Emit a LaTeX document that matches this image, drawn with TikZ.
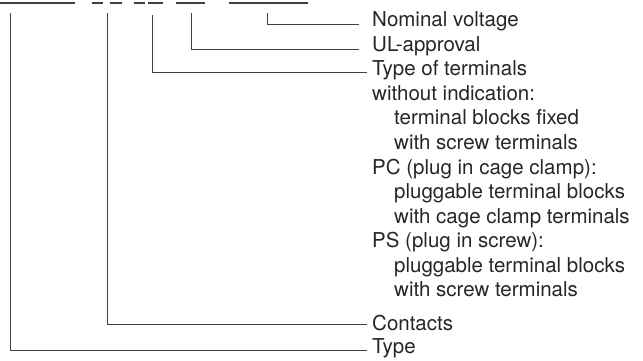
\documentclass[tikz,border=0pt]{standalone}
\usepackage{fontspec}
\setmainfont{TeX Gyre Heros}
\usepackage{tikz}
\usetikzlibrary{calc}
\newcommand{\lblfont}{\fontsize{20.5}{24}\selectfont}
\tikzstyle{lbl}=[font=\lblfont, inner sep=0pt, anchor=base west, text=black!85]
\tikzstyle{lead}=[draw=black!75, line width=1.1pt]

\begin{document}
\begin{tikzpicture}[x=1pt,y=-1pt]
\useasboundingbox (0,0) rectangle (643,360);
% underlines of the order code (cut off at the top)
\foreach \a/\b in {0/75,92.3/102.7,110/121.7,134/145,148.3/162.7,175.7/205,229.3/308.3} {
	\draw[lead] (\a,3) -- (\b,3);
}
\foreach \n/\x/\y in {type/10.7/13,cont/107.3/13,term/152.7/15,ul/191.7/13,volt/267.3/13} {
	\coordinate (t\n) at (\x,\y);
}
% texts
\node[lbl] (volt) at (372,26.7) {Nominal voltage};
\node[lbl] (ul) at (372,51.2) {UL-approval};
\node[lbl] (term) at (372,75.8) {Type of terminals};
\foreach \i/\txt in {3/without indication:,6/PC (plug in cage clamp):,9/PS (plug in screw):} {
	\node[lbl] (h\i) at (372,26.7+24.55*\i) {\txt};
}
\foreach \i/\txt in {4/terminal blocks fixed,5/with screw terminals,7/pluggable terminal blocks,8/with cage clamp terminals,10/pluggable terminal blocks,11/with screw terminals} {
	\node[lbl] (s\i) at (394,26.7+24.55*\i) {\txt};
}
\node[lbl] (cont) at (372,330.5) {Contacts};
\node[lbl] (type) at (372,353.5) {Type};
% leaders
\draw[lead] (tvolt) |- ([xshift=-13pt,yshift=2.5pt]volt.base west);
\draw[lead] (tul) |- ([xshift=-13pt,yshift=1.5pt]ul.base west);
\draw[lead] (tterm) |- ([xshift=-5pt,yshift=3.5pt]term.base west);
\draw[lead] (tcont) |- ([xshift=-5pt,yshift=6pt]cont.base west);
\draw[lead] (ttype) |- ([xshift=-5pt,yshift=3pt]type.base west);
\end{tikzpicture}
\end{document}
